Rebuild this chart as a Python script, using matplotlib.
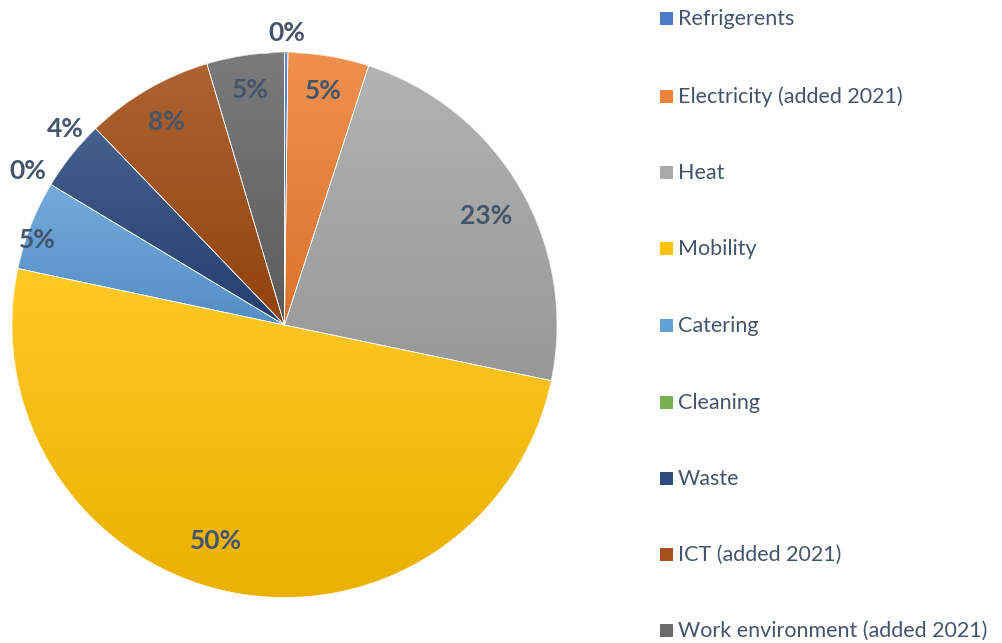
import numpy as np
import matplotlib
matplotlib.use("Agg")
import matplotlib.pyplot as plt
from matplotlib.colors import to_rgb
from matplotlib.patches import Rectangle, Wedge

categories = ["Refrigerents", "Electricity (added 2021)", "Heat", "Mobility",
              "Catering", "Cleaning", "Waste", "ICT (added 2021)",
              "Work environment (added 2021)"]
values = [0.2, 4.8, 23.3, 50.1, 5.3, 0.0, 4.2, 7.6, 4.6]
pct_labels = ["0%", "5%", "23%", "50%", "5%", "0%", "4%", "8%", "5%"]

colors = ["#4472C4", "#ED7D31", "#A5A5A5", "#FFC000", "#5B9BD5",
          "#70AD47", "#264478", "#9E480E", "#636363"]
# label layout: radial distance and clockwise angle offset (deg)
label_dist = [1.07, 0.87, 0.84, 0.83, 0.96, 1.10, 1.08, 0.86, 0.87]
label_shift = [0, 0, 1.7, 5.7, -2.5, 0, 3.3, 0, 0]

plt.rcParams['font.family'] = ['Lato', 'DejaVu Sans']
W, H = 1002, 643
fig = plt.figure(figsize=(W / 100, H / 100), dpi=100)

cx, cy, R = 284.5, 325.0, 272.5
ax = fig.add_axes([(cx - R) / W, (H - cy - R) / H, 2 * R / W, 2 * R / H])
wedges, _ = ax.pie(values, colors=colors, startangle=90, counterclock=False,
                   radius=1, wedgeprops=dict(linewidth=0))
ax.axis('off')


def mix(c, t, f):
    c = np.array(to_rgb(c)); t = np.array(to_rgb(t))
    return c + (t - c) * f


for w, col in zip(wedges, colors):
    if abs(w.theta2 - w.theta1) < 0.05:
        w.set_visible(False)
        continue
    verts = w.get_path().vertices
    x0, y0 = verts.min(axis=0)
    x1, y1 = verts.max(axis=0)
    top = mix(col, "white", 0.15)
    bot = mix(col, "black", 0.08)
    n = 256
    t = np.linspace(0, 1, n)[:, None]
    grad = top[None, :] * (1 - t) + bot[None, :] * t
    img = np.repeat(grad[:, None, :], 2, axis=1)
    im = ax.imshow(img, extent=[x0, x1, y0, y1], origin='upper',
                   aspect='auto', zorder=2, interpolation='bilinear')
    im.set_clip_path(w)
    edge = Wedge(w.center, w.r, w.theta1, w.theta2, facecolor='none',
                 edgecolor='white', linewidth=0.5, zorder=3)
    ax.add_patch(edge)

ax.set_xlim(-1, 1)
ax.set_ylim(-1, 1)
ax.set_aspect('auto')

for w, lab, d, s in zip(wedges, pct_labels, label_dist, label_shift):
    ang = np.deg2rad((w.theta1 + w.theta2) / 2 - s)
    ax.text(d * np.cos(ang), d * np.sin(ang), lab, ha='center', va='center',
            fontsize=19, fontweight='bold', color='#44546A', zorder=5,
            clip_on=False)

# legend
ys = [18, 96, 172, 248, 325, 402, 478, 554, 630]
for y, cat, col in zip(ys, categories, colors):
    fig.patches.append(Rectangle((660 / W, (H - y - 6.5) / H), 12.5 / W, 12.5 / H,
                                 transform=fig.transFigure,
                                 facecolor=mix(col, "white", 0.05),
                                 edgecolor='none'))
    fig.text(678 / W, (H - y - 1) / H, cat, ha='left', va='center',
             fontsize=15.5, color='#44546A')

fig.savefig("out.png", dpi=100)
